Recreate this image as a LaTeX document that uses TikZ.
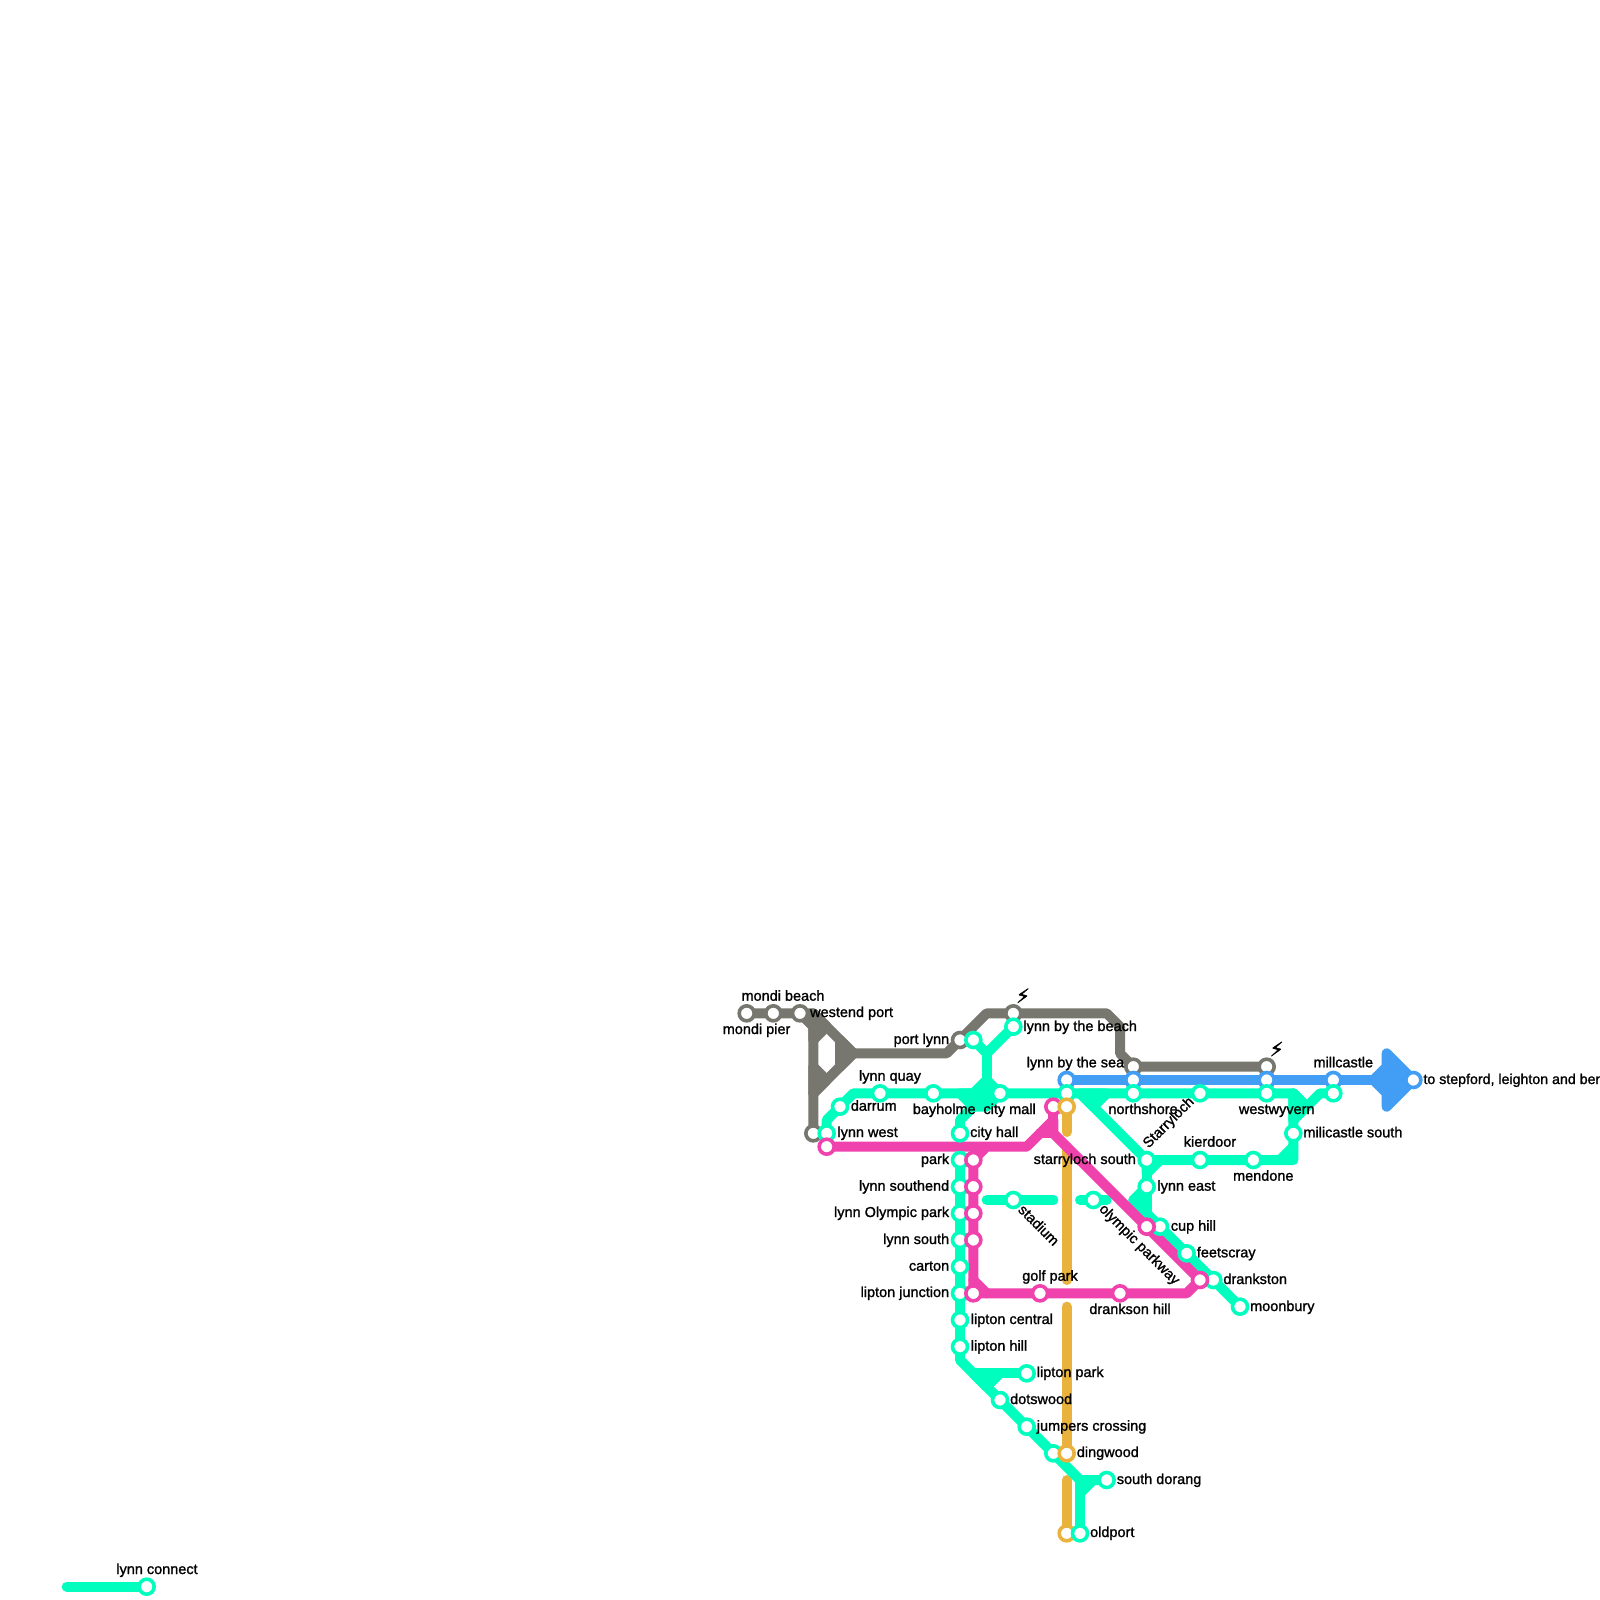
\documentclass[tikz,border=0pt]{standalone}
\usepackage{fontspec}
\newfontfamily\lab[FakeBold=1.3]{Liberation Sans}
\newfontfamily\sym[FakeBold=2]{DejaVu Sans}
\definecolor{cgray}{HTML}{77776F}
\definecolor{cgreen}{HTML}{00FFBF}
\definecolor{cpink}{HTML}{EF42AD}
\definecolor{cgold}{HTML}{E9B23C}
\definecolor{cblue}{HTML}{429EF5}
\tikzset{
  route/.style={line width=0.5cm,line cap=round,line join=round},
  blob/.style={route,fill=#1,draw=#1},
  halt/.style={circle,fill=white,draw=#1,line width=0.18cm,minimum size=0.75cm,inner sep=0pt},
  tag/.style={font=\lab\fontsize{20.6}{24}\selectfont,inner sep=0pt,text=black},
  tagL/.style={tag,anchor=base west},
  tagR/.style={tag,anchor=base east},
  tagC/.style={tag,anchor=base},
  tagM/.style={tag,anchor=center},
  bolt/.style={font=\sym\fontsize{28}{30}\selectfont,inner sep=0pt,text=black,anchor=center}
}
\begin{document}
\begin{tikzpicture}[x=0.05cm,y=-0.05cm]
\useasboundingbox (0,0) rectangle (1600,1600);
\fill[white] (0,0) rectangle (1600,1600);
% station positions
\foreach \n/\x/\y in {
 mbeach/746.67/1013.33, mmid/773.33/1013.33, wport/800/1013.33, gend/813.33/1133.33, plynn/960/1040,
 bolta/1013.33/1013.33, boltb/1266.67/1066.67, gsea/1133.33/1066.67,
 bsea/1066.67/1080, bnorth/1133.33/1080, bwest/1266.67/1080, bmill/1333.33/1080, bto/1413.33/1080,
 lwest/826.67/1133.33, darrum/840/1106.67, quay/880/1093.33, bayh/933.33/1093.33, cmall/1000/1093.33,
 gsix/1066.67/1093.33, north/1133.33/1093.33, gtwelve/1200/1093.33, wwyv/1266.67/1093.33, mill/1333.33/1093.33,
 chall/960/1133.33, pbeach/973.33/1040, beach/1013.33/1026.67,
 mils/1293.33/1133.33, mend/1253.33/1160, kier/1200/1160, starr/1146.67/1160, least/1146.67/1186.67,
 cup/1160/1226.67, feet/1186.67/1253.33, drank/1213.33/1280, moon/1240/1306.67,
 stad/1013.33/1200, olym/1093.33/1200,
 park/960/1160, south/960/1186.67, olpk/960/1213.33, lsou/960/1240, cart/960/1266.67, ljun/960/1293.33, lcen/960/1320, lhil/960/1346.67,
 lpar/1026.67/1373.33, dots/1000/1400, jump/1026.67/1426.67, gdin/1053.33/1453.33, dor/1106.67/1480, old/1080/1533.33,
 pwest/826.67/1146.67, ppark/973.33/1160, psou/973.33/1186.67, polp/973.33/1213.33, plso/973.33/1240, pjun/973.33/1293.33,
 pgolf/1040/1293.33, phil/1120/1293.33, pdra/1200/1280, pcup/1146.67/1226.67, ptop/1053.33/1106.67,
 ytop/1066.67/1106.67, ydin/1066.67/1453.33, yend/1066.67/1533.33,
 conn/146.67/1586.67, connst/66.67/1586.67}
 {\coordinate (\n) at (\x,\y);}
% gray
\draw[route,cgray] (mbeach)--(wport)--(813.33,1013.33)--(853.33,1053.33)--(946.67,1053.33)--(plynn)--(986.67,1013.33)--(bolta)--(1106.67,1013.33)--(1120,1026.67)--(1120,1053.33)--(gsea)--(boltb);
\draw[route,cgray] (wport)--(813.33,1026.67)--(gend);
\draw[route,cgray] (853.33,1053.33)--(813.33,1093.33);
\draw[route,cgray] (840,1040)--(840,1066.67);
\draw[blob=cgray] (813.33,1013.33)--(826.67,1026.67)--(813.33,1040)--cycle;
\draw[blob=cgray] (840,1040)--(853.33,1053.33)--(840,1066.67)--cycle;
\draw[blob=cgray] (813.33,1066.67)--(826.67,1080)--(813.33,1093.33)--cycle;
% blue
\draw[route,cblue] (bsea)--(bnorth)--(bwest)--(bmill)--(bto);
\draw[blob=cblue] (1386.67,1053.33)--(bto)--(1386.67,1106.67)--(1386.67,1093.33)--(1373.33,1080)--(1386.67,1066.67)--cycle;
% gold
\draw[route,cgold] (ytop)--(1066.67,1132);
\draw[route,cgold] (1066.67,1146.67)--(1066.67,1280);
\draw[route,cgold] (1066.67,1306.67)--(ydin);
\draw[route,cgold] (1066.67,1480)--(yend);
% green
\draw[route,cgreen] (connst)--(conn);
\draw[route,cgreen] (lwest)--(826.67,1120)--(853.33,1093.33)--(quay)--(bayh)--(cmall)--(gsix)--(north)--(gtwelve)--(wwyv)--(1293.33,1093.33)--(mils)--(1293.33,1160)--(mend)--(kier)--(starr)--(1080,1093.33);
\draw[route,cgreen] (1293.33,1093.33)--(1306.67,1106.67);
\draw[route,cgreen] (mill)--(1320,1093.33)--(1293.33,1120);
\draw[blob=cgreen] (1293.33,1093.33)--(1306.67,1106.67)--(1293.33,1120)--cycle;
\draw[route,cgreen] (1293.33,1146.67)--(1280,1160);
\draw[blob=cgreen] (1080,1093.33)--(1106.67,1093.33)--(1093.33,1106.67)--cycle;
\draw[route,cgreen] (pbeach)--(986.67,1053.33)--(beach);
\draw[route,cgreen] (986.67,1053.33)--(986.67,1080);
\draw[blob=cgreen] (986.67,1080)--(cmall)--(986.67,1106.67)--(973.33,1106.67)--(960,1093.33)--(973.33,1093.33)--cycle;
\draw[route,cgreen] (chall)--(960,1120)--(973.33,1106.67);
\draw[route,cgreen] (986.67,1200)--(stad)--(1053.33,1200);
\draw[route,cgreen] (1080,1200)--(olym)--(1106.67,1200);
\draw[route,cgreen] (starr)--(least)--(1146.67,1213.33);
\draw[blob=cgreen] (1146.67,1160)--(1160,1160)--(1146.67,1173.33)--cycle;
\draw[blob=cgreen] (least)--(1133.33,1200)--(1146.67,1213.33)--cycle;
\draw[route,cgreen] (1133.33,1200)--(cup)--(feet)--(drank)--(moon);
\draw[route,cgreen] (park)--(south)--(olpk)--(lsou)--(cart)--(ljun)--(lcen)--(lhil)--(960,1360)--(dots)--(jump)--(gdin)--(1080,1480)--(dor);
\draw[route,cgreen] (1080,1480)--(old);
\draw[blob=cgreen] (1080,1480)--(1093.33,1480)--(1080,1493.33)--cycle;
\draw[route,cgreen] (973.33,1373.33)--(lpar);
\draw[blob=cgreen] (973.33,1373.33)--(1000,1373.33)--(986.67,1386.67)--cycle;
% pink
\draw[route,cpink] (pwest)--(1026.67,1146.67)--(1053.33,1120)--(1053.33,1133.33)--(pcup)--(pdra)--(1186.67,1293.33)--(phil)--(pgolf)--(pjun)--(plso)--(polp)--(psou)--(ppark)--(986.67,1146.67);
\draw[route,cpink] (ptop)--(1053.33,1133.33)--(1040,1133.33);
\draw[route,cpink] (973.33,1280)--(986.67,1293.33);
% stations
\foreach \n in {mbeach,mmid,wport,gend,plynn,bolta,boltb,gsea}{\node[halt=cgray] (s\n) at (\n) {};}
\foreach \n in {bsea,bnorth,bwest,bmill,bto}{\node[halt=cblue] (s\n) at (\n) {};}
\foreach \n in {lwest,darrum,quay,bayh,cmall,gsix,north,gtwelve,wwyv,mill,chall,pbeach,beach,mils,mend,kier,starr,least,cup,feet,drank,moon,stad,olym,park,south,olpk,lsou,cart,ljun,lcen,lhil,lpar,dots,jump,gdin,dor,conn}{\node[halt=cgreen] (s\n) at (\n) {};}
\foreach \n in {pwest,ppark,psou,polp,plso,pjun,pgolf,phil,pdra,pcup,ptop}{\node[halt=cpink] (s\n) at (\n) {};}
\foreach \n in {ytop,ydin,yend}{\node[halt=cgold] (s\n) at (\n) {};}
\node[halt=cgreen] (sold) at (old) {};
% labels
\node[tagC] (t1) at (783,1000.7) {mondi beach};
\node[tagR] (t2) at (790.5,1034) {mondi pier};
\node[tagL] (t3) at (810,1017) {westend port};
\node[tagR] (t4) at (949.3,1044) {port lynn};
\node[tagC] (t5) at (890,1080.7) {lynn quay};
\node[tagL] (t6) at (850.7,1110.7) {darrum};
\node[tagL] (t7) at (912.7,1114) {bayholme};
\node[tagL] (t8) at (983.3,1114) {city mall};
\node[tagL] (t9) at (837.3,1137) {lynn west};
\node[tagL] (t10) at (970,1137) {city hall};
\node[tagR] (t11) at (949.3,1164) {park};
\node[tagL] (t12) at (1023.3,1031) {lynn by the beach};
\node[tagR] (t13) at (1124.3,1067.3) {lynn by the sea};
\node[tagL] (t14) at (1108.3,1114) {northshore};
\node[tagM,rotate=45] (t15) at (1169,1123) {Starryloch};
\node[tagC] (t16) at (1210,1146.7) {kierdoor};
\node[tagR] (t17) at (1136,1164) {starryloch south};
\node[tagL] (t18) at (1157.3,1190.7) {lynn east};
\node[tagL] (t19) at (1170.7,1230.7) {cup hill};
\node[tagC] (t20) at (1263.3,1180.7) {mendone};
\node[tagC] (t21) at (1276.7,1114) {westwyvern};
\node[tagL] (t22) at (1303.3,1137.3) {milicastle south};
\node[tagC] (t23) at (1343.3,1067.3) {millcastle};
\node[tagL,font=\lab\fontsize{20.2}{24}\selectfont] (t24) at (1423.3,1084) {to stepford, leighton and ben};
\node[tagR] (t25) at (949.3,1190.7) {lynn southend};
\node[tagR] (t26) at (949.3,1217) {lynn Olympic park};
\node[tagR] (t27) at (949.3,1244) {lynn south};
\node[tagR] (t28) at (949.3,1270.7) {carton};
\node[tagR] (t29) at (949.3,1297) {lipton junction};
\node[tagL] (t30) at (970.7,1324) {lipton central};
\node[tagL] (t31) at (970.7,1350.7) {lipton hill};
\node[tagM,rotate=-45] (t32) at (1039,1225) {stadium};
\node[tagM,rotate=-45] (t33) at (1139,1245) {olympic parkway};
\node[tagC] (t34) at (1050,1280.7) {golf park};
\node[tagC] (t35) at (1130,1314) {drankson hill};
\node[tagL] (t36) at (1196.7,1257.3) {feetscray};
\node[tagL] (t37) at (1223.3,1284) {drankston};
\node[tagL] (t38) at (1250,1311) {moonbury};
\node[tagL] (t39) at (1036.7,1377) {lipton park};
\node[tagL] (t40) at (1010,1404) {dotswood};
\node[tagL] (t41) at (1036.7,1430.7) {jumpers crossing};
\node[tagL] (t42) at (1076.7,1457) {dingwood};
\node[tagL] (t43) at (1116.7,1484) {south dorang};
\node[tagL] (t44) at (1090,1537) {oldport};
\node[tagC] (t45) at (157,1574) {lynn connect};
\node[bolt] (b1) at (1023,995.7) {⚡};
\node[bolt] (b2) at (1276.7,1049) {⚡};
\end{tikzpicture}
\end{document}
